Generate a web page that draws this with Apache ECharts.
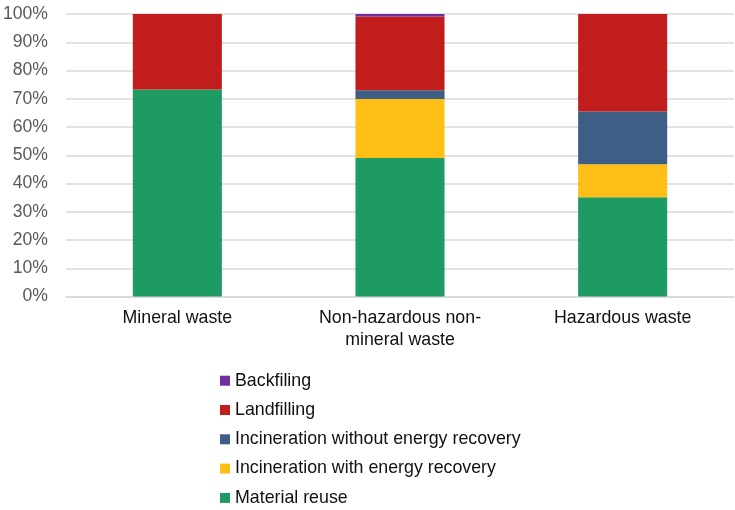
<!DOCTYPE html>
<html>
<head>
<meta charset="utf-8">
<style>
  html, body { margin: 0; padding: 0; background: #ffffff; }
  #chart { width: 735px; height: 510px; }
</style>
<script src="https://cdn.jsdelivr.net/npm/echarts@6/dist/echarts.min.js"></script>
</head>
<body>
<div id="chart"></div>
<script>
// Waste categories on the x axis
const categories = ['Mineral waste', 'Non-hazardous non-\nmineral waste', 'Hazardous waste'];

// Share of each treatment route (%), per category
const materialReuse      = [73.3, 49.0, 35.1];
const incinerationEnergy = [0, 20.9, 11.7];
const incinerationNoEnergy = [0, 3.1, 18.7];
const landfilling        = [26.7, 26.1, 34.5];
const backfiling         = [0, 0.9, 0];

const yTicks = [0, 10, 20, 30, 40, 50, 60, 70, 80, 90, 100];

const seriesDefs = [
  { name: 'Material reuse', data: materialReuse, color: '#1e9b62' },
  { name: 'Incineration with energy recovery', data: incinerationEnergy, color: '#fdbf16' },
  { name: 'Incineration without energy recovery', data: incinerationNoEnergy, color: '#3e5e85' },
  { name: 'Landfilling', data: landfilling, color: '#c01d1c' },
  { name: 'Backfiling', data: backfiling, color: '#7030a0' }
];

const chart = echarts.init(document.getElementById('chart'));
const fontFamily = '"Liberation Sans", Arial, Helvetica, sans-serif';

chart.setOption({
  animation: false,
  textStyle: { fontFamily: fontFamily },
  grid: { left: 66, right: 1, top: 14, bottom: 213.5, containLabel: false },
  legend: {
    orient: 'vertical',
    left: 220,
    top: 369.7,
    padding: 0,
    height: 145,
    itemWidth: 10,
    itemHeight: 10,
    itemGap: 7.3,
    icon: 'rect',
    data: seriesDefs.map(s => s.name).reverse(),
    textStyle: { fontSize: 17.8, color: '#111111', lineHeight: 22 }
  },
  xAxis: {
    type: 'category',
    data: categories,
    axisLine: { show: true, lineStyle: { color: '#d9d9d9', width: 1.5 } },
    axisTick: { show: false },
    axisLabel: { fontSize: 17.8, color: '#111111', margin: 10, lineHeight: 22.5, interval: 0 }
  },
  yAxis: {
    type: 'value',
    min: yTicks[0],
    max: yTicks[yTicks.length - 1],
    interval: 10,
    axisLine: { show: false },
    axisTick: { show: false },
    splitLine: { lineStyle: { color: '#d9d9d9', width: 1.5 } },
    axisLabel: { fontSize: 17.6, color: '#595959', margin: 18, formatter: v => v + '%' }
  },
  series: seriesDefs.map(s => ({
    name: s.name,
    type: 'bar',
    stack: 'total',
    barWidth: '40%',
    data: s.data,
    itemStyle: { color: s.color },
    emphasis: { disabled: true }
  }))
});
</script>
</body>
</html>
